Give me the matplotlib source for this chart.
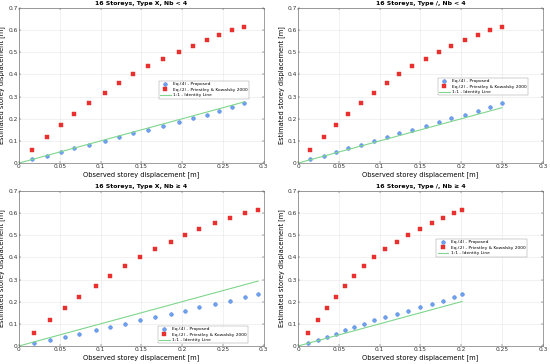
import matplotlib
matplotlib.use("Agg")
import matplotlib.pyplot as plt

# estimated storey displacement, Priestley & Kowalsky 2000 (same in all panels)
red_est = [0.060, 0.118, 0.172, 0.223, 0.272, 0.318, 0.360, 0.400,
           0.437, 0.471, 0.502, 0.530, 0.556, 0.579, 0.599, 0.616]

# Nb < 4 panels
obs_x_lt = [0.016, 0.034, 0.051, 0.068, 0.086, 0.105, 0.122, 0.140,
            0.158, 0.177, 0.196, 0.213, 0.230, 0.245, 0.261, 0.276]
obs_i_lt = [0.015, 0.032, 0.046, 0.061, 0.077, 0.093, 0.109, 0.124,
            0.140, 0.157, 0.173, 0.188, 0.205, 0.220, 0.235, 0.250]
blue_lt = [0.017, 0.033, 0.050, 0.066, 0.083, 0.100, 0.117, 0.134,
           0.150, 0.167, 0.184, 0.202, 0.219, 0.237, 0.254, 0.270]

# Nb >= 4 panels
obs_x_ge = [0.019, 0.038, 0.057, 0.074, 0.094, 0.111, 0.130, 0.148,
            0.167, 0.186, 0.203, 0.221, 0.240, 0.259, 0.277, 0.293]
obs_i_ge = [0.012, 0.024, 0.036, 0.047, 0.058, 0.069, 0.081, 0.093,
            0.106, 0.121, 0.135, 0.149, 0.164, 0.178, 0.191, 0.201]
blue_ge = [0.014, 0.028, 0.042, 0.056, 0.072, 0.085, 0.101, 0.116,
           0.132, 0.146, 0.159, 0.174, 0.189, 0.204, 0.219, 0.234]

titles = ["16 Storeys, Type X, Nb < 4", "16 Storeys, Type /, Nb < 4",
          "16 Storeys, Type X, Nb \u2265 4", "16 Storeys, Type /, Nb \u2265 4"]

panels = [
    (obs_x_lt, blue_lt, [0.0345, 0.552, 0.445, 0.426], (0.571, 0.53)),
    (obs_i_lt, blue_lt, [0.542, 0.552, 0.445, 0.426], (0.570, 0.55)),
    (obs_x_ge, blue_ge, [0.0345, 0.0495, 0.445, 0.426], (0.567, 0.13)),
    (obs_i_ge, blue_ge, [0.542, 0.0495, 0.445, 0.426], (0.565, 0.69)),
]

BLUE = "#6fa3f0"
BLUE_EDGE = "#4a80e0"
RED = "#e8312f"
GREEN = "#7fd68c"

fig = plt.figure(figsize=(5.5, 3.64), dpi=100)
fs = 4.2

for (obs, blue, rect, anchor), title in zip(panels, titles):
    ax = fig.add_axes(rect)
    ax.plot(obs, blue, "o", ms=2.6, mfc=BLUE, mec=BLUE_EDGE, mew=0.4,
            label="Eq.(4) - Proposed")
    ax.plot(obs, red_est, "s", ms=2.3, mfc=RED, mec=RED, mew=0.3,
            label="Eq.(2) - Priestley & Kowalsky 2000")
    ax.plot([0, obs[-1]], [0, obs[-1]], color=GREEN, lw=0.8,
            label="1:1 - Identity Line")
    ax.set_xlim(0, 0.3)
    ax.set_ylim(0, 0.7)
    ax.set_xticks([0, 0.05, 0.1, 0.15, 0.2, 0.25, 0.3])
    ax.set_xticklabels(["0", "0.05", "0.1", "0.15", "0.2", "0.25", "0.3"])
    ax.set_yticks([0, 0.1, 0.2, 0.3, 0.4, 0.5, 0.6, 0.7])
    ax.set_yticklabels(["0", "0.1", "0.2", "0.3", "0.4", "0.5", "0.6", "0.7"])
    ax.tick_params(labelsize=fs, length=1.5, width=0.3, pad=1,
                   colors="#333333", top=True, right=True, direction="in")
    ax.grid(True, color="#e6e6e6", lw=0.4)
    for sp in ax.spines.values():
        sp.set_color("#555555")
        sp.set_linewidth(0.4)
    ax.set_title(title, fontsize=fs + 0.2, fontweight="bold", pad=2)
    ax.set_xlabel("Observed storey displacement [m]", fontsize=fs + 0.6, labelpad=1)
    ax.set_ylabel("Estimated storey displacement [m]", fontsize=fs + 0.6, labelpad=2)
    leg = ax.legend(loc="upper left", bbox_to_anchor=anchor, fontsize=3.2,
                    frameon=True, fancybox=False, borderpad=0.3,
                    handlelength=2.4, handletextpad=0.5, labelspacing=0.3,
                    borderaxespad=0)
    leg.get_frame().set_linewidth(0.3)
    leg.get_frame().set_edgecolor("#777777")

fig.savefig("out.png", dpi=100)
